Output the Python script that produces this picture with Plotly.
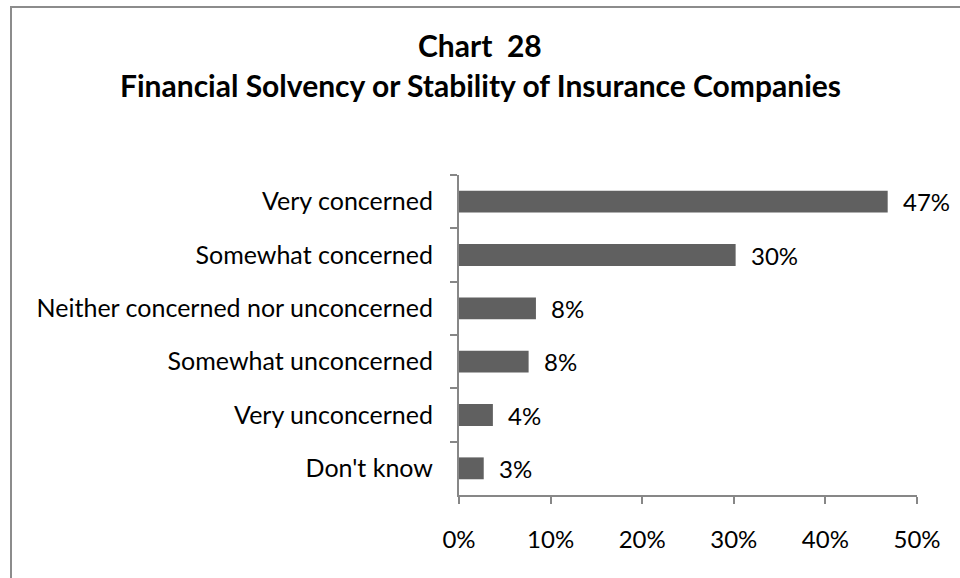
import plotly.graph_objects as go

# Survey responses, top to bottom
categories = [
    "Very concerned",
    "Somewhat concerned",
    "Neither concerned nor unconcerned",
    "Somewhat unconcerned",
    "Very unconcerned",
    "Don't know",
]
shares = [46.8, 30.2, 8.4, 7.6, 3.7, 2.7]
tick_values = [0, 10, 20, 30, 40, 50]
tick_labels = ["0%", "10%", "20%", "30%", "40%", "50%"]
title_lines = ["Chart  28", "Financial Solvency or Stability of Insurance Companies"]

FONT = "Lato"
AXIS_COLOR = "#878787"

fig = go.Figure(
    go.Bar(
        x=shares,
        y=categories,
        orientation="h",
        marker=dict(color="#606060", line=dict(width=0)),
        hoverinfo="skip",
    )
)

# Value labels to the right of each bar
for cat, val in zip(categories, shares):
    fig.add_annotation(
        x=val, y=cat, xref="x", yref="y",
        text=f"{round(val):.0f}%",
        showarrow=False, xanchor="left", xshift=13,
        font=dict(family=FONT, size=24, color="#000000"),
    )

# Two-line bold title, centred on the full page width
for text, ypos in zip(title_lines, [1.405, 1.28]):
    fig.add_annotation(
        x=(480 - 459) / 458, y=ypos, xref="paper", yref="paper",
        text=f"<b>{text}</b>", showarrow=False,
        xanchor="center", yanchor="middle",
        font=dict(family=FONT, size=30, color="#000000"),
    )

# Outer chart frame (runs past the right and bottom edges)
fig.add_shape(
    type="rect", xref="paper", yref="paper",
    x0=(11 - 459) / 458, x1=1.2, y0=-0.4, y1=(495 - 7) / 320,
    line=dict(color="#8c8c8c", width=2), fillcolor="rgba(0,0,0,0)",
    layer="below",
)

fig.update_layout(
    width=960, height=578,
    margin=dict(l=459, r=43, t=175, b=83),
    paper_bgcolor="white", plot_bgcolor="white",
    showlegend=False,
    bargap=0.59,
    font=dict(family=FONT, size=24, color="#000000"),
    xaxis=dict(
        range=[0, 50],
        tickvals=tick_values, ticktext=tick_labels,
        showgrid=False, zeroline=False,
        showline=True, linecolor=AXIS_COLOR, linewidth=2,
        ticks="outside", ticklen=7, tickwidth=2, tickcolor=AXIS_COLOR,
        ticklabelstandoff=15,
        tickfont=dict(family=FONT, size=24, color="#000000"),
        fixedrange=True,
    ),
    yaxis=dict(
        categoryorder="array", categoryarray=categories,
        autorange="reversed",
        showgrid=False, zeroline=False,
        showline=True, linecolor=AXIS_COLOR, linewidth=2,
        ticks="outside", ticklen=7, tickwidth=2, tickcolor=AXIS_COLOR,
        tickson="boundaries",
        ticklabelstandoff=19,
        tickfont=dict(family=FONT, size=25, color="#000000"),
        fixedrange=True,
    ),
)

fig.write_html("out.html", config={"displayModeBar": False})
